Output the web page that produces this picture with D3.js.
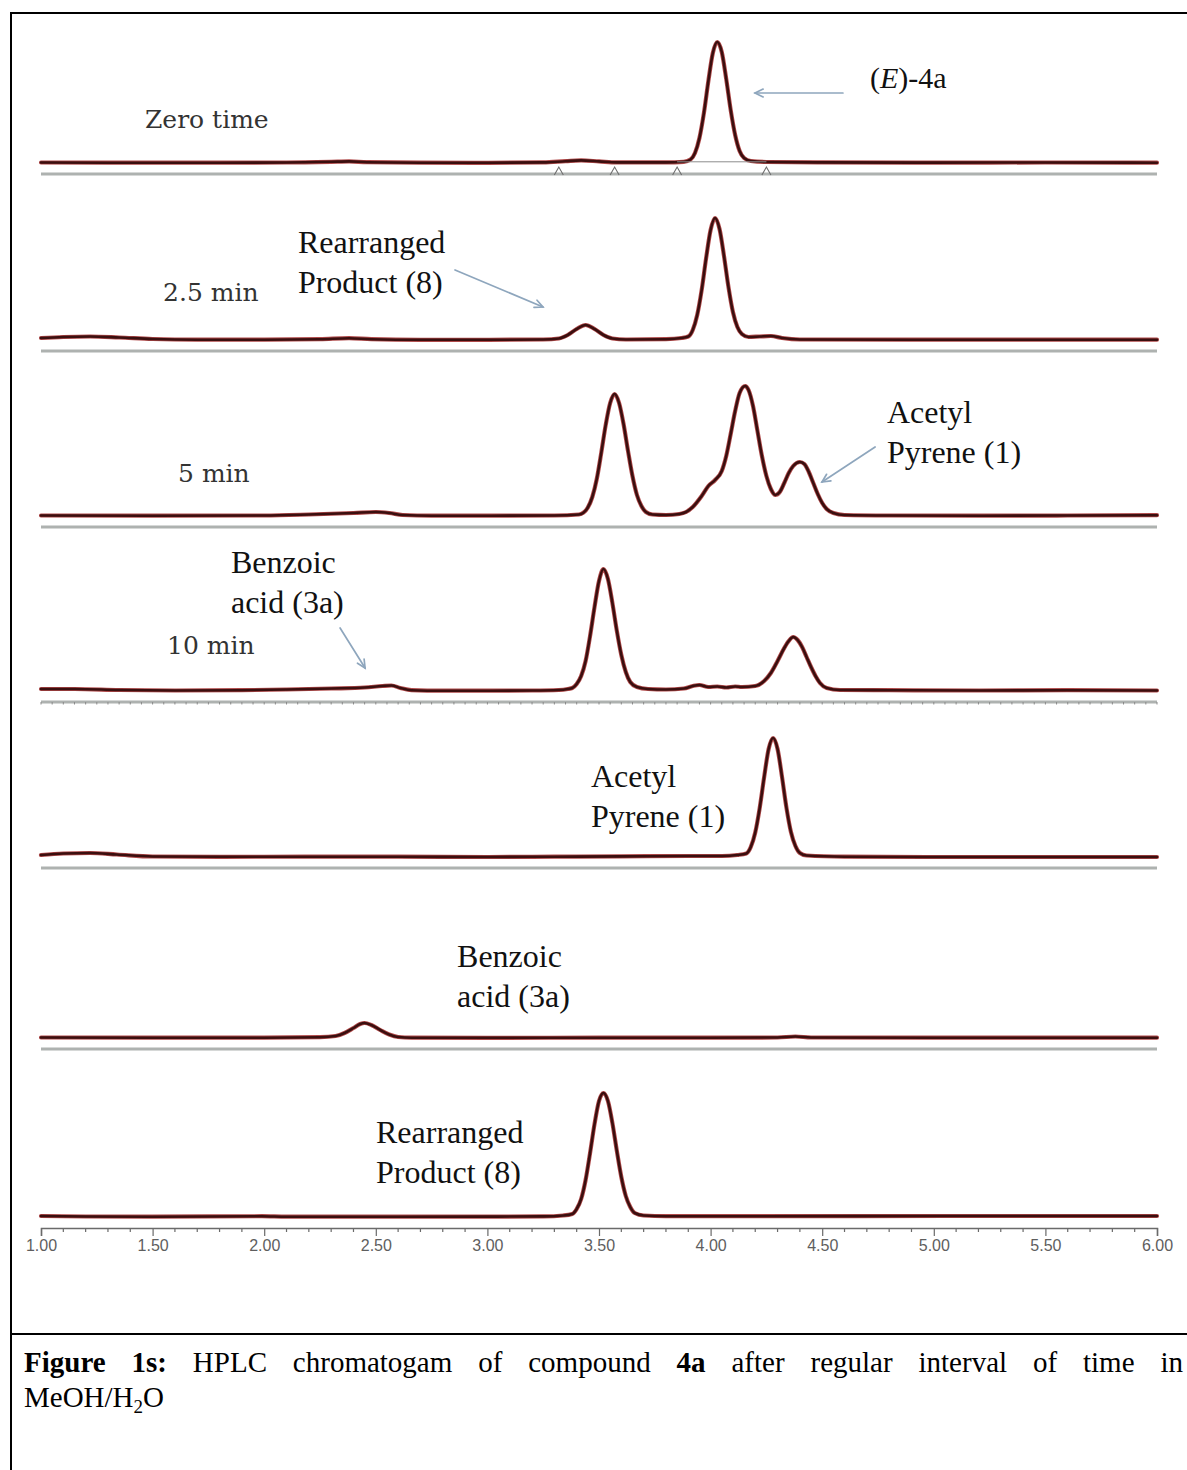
<!DOCTYPE html>
<html>
<head>
<meta charset="utf-8">
<script src="https://cdn.jsdelivr.net/npm/d3@7"></script>
<style>
  html, body { margin: 0; padding: 0; background: #fff; }
  svg { display: block; }
</style>
</head>
<body>
<div id="chart"></div>
<script>
// Retention time axis (min)
const timeTicks = [1.00, 1.50, 2.00, 2.50, 3.00, 3.50, 4.00, 4.50, 5.00, 5.50, 6.00];
const tickLabels = ["1.00", "1.50", "2.00", "2.50", "3.00", "3.50", "4.00", "4.50", "5.00", "5.50", "6.00"];

// Sampling times of compound 4a in MeOH/H2O
const runLabels = ["Zero time", "2.5 min", "5 min", "10 min"];

// Detector signal [time (min), response] for each chromatogram
const zeroTime = [
  [1.00, 0.5], [1.30, 0.3], [1.80, 0.3], [2.10, 0.5], [2.30, 1.2], [2.38, 1.6], [2.46, 0.8],
  [2.70, 0.3], [3.00, 0.2], [3.25, 0.6], [3.35, 1.8], [3.42, 2.6], [3.50, 1.6], [3.58, 0.6],
  [3.80, 0.6], [3.88, 1.2], [3.91, 3.5], [3.93, 10], [3.95, 25], [3.97, 50], [3.99, 82],
  [4.01, 110], [4.03, 121], [4.05, 111], [4.07, 84], [4.09, 53], [4.11, 28], [4.13, 12],
  [4.15, 5], [4.18, 2], [4.25, 1], [4.50, 0.6], [5.00, 0.4], [5.50, 0.5], [6.00, 0.3]
];
const min2_5 = [
  [1.00, 2], [1.10, 3], [1.22, 3.5], [1.35, 2.5], [1.50, 1], [1.70, 0.3], [2.00, 0.3],
  [2.25, 0.8], [2.38, 1.8], [2.48, 0.8], [2.70, 0.2], [3.00, 0.2], [3.25, 0.5], [3.32, 1.5],
  [3.36, 5], [3.40, 11], [3.44, 15], [3.48, 11], [3.52, 5], [3.56, 1.5], [3.62, 0.5],
  [3.80, 0.8], [3.87, 2], [3.90, 3.5], [3.92, 10], [3.94, 25], [3.96, 50], [3.98, 82],
  [4.00, 110], [4.02, 122], [4.04, 111], [4.06, 84], [4.08, 53], [4.10, 28], [4.12, 13],
  [4.14, 6], [4.17, 3], [4.22, 3.5], [4.27, 4], [4.32, 2], [4.40, 0.5], [5.00, 0.3], [6.00, 0.3]
];
const min5 = [
  [1.00, 0.5], [1.50, 0.3], [2.00, 0.5], [2.20, 1.5], [2.40, 3], [2.50, 4], [2.56, 3],
  [2.62, 1], [2.75, 0.3], [3.00, 0.3], [3.30, 0.5], [3.41, 1.5], [3.43, 3.3], [3.45, 8.5],
  [3.47, 19], [3.49, 37], [3.51, 63], [3.53, 91], [3.55, 113], [3.57, 122], [3.59, 113],
  [3.61, 92], [3.63, 65], [3.65, 40], [3.67, 21], [3.69, 10], [3.71, 4], [3.74, 1.5],
  [3.80, 1], [3.86, 2], [3.89, 4], [3.92, 9], [3.96, 20], [3.99, 30], [4.02, 36], [4.05, 45],
  [4.07, 60], [4.09, 82], [4.11, 105], [4.13, 123], [4.155, 130], [4.17, 126], [4.19, 110],
  [4.21, 85], [4.23, 60], [4.25, 40], [4.27, 27], [4.29, 21], [4.31, 24], [4.33, 33],
  [4.35, 43], [4.37, 50], [4.40, 54], [4.42, 52], [4.44, 44], [4.46, 33], [4.48, 22],
  [4.50, 13], [4.52, 7], [4.55, 3], [4.60, 1], [4.80, 0.5], [5.20, 0.3], [5.60, 0.5], [6.00, 0.8]
];
const min10 = [
  [1.00, 2], [1.15, 2], [1.35, 1], [1.60, 0.5], [1.90, 0.8], [2.10, 1.5], [2.30, 2.5],
  [2.45, 3.5], [2.53, 5], [2.57, 5.5], [2.61, 3], [2.66, 0.8], [2.80, 0.3], [3.00, 0.3],
  [3.20, 0.5], [3.32, 1], [3.36, 2], [3.38, 3], [3.40, 7], [3.42, 15], [3.44, 30], [3.46, 55],
  [3.48, 84], [3.50, 110], [3.52, 122], [3.54, 112], [3.56, 88], [3.58, 60], [3.60, 36],
  [3.62, 19], [3.64, 9], [3.67, 4], [3.72, 2], [3.80, 1.5], [3.88, 2.5], [3.92, 5], [3.95, 6],
  [3.99, 4], [4.03, 4.5], [4.07, 3.5], [4.11, 4.5], [4.14, 4], [4.20, 5], [4.24, 10],
  [4.27, 18], [4.30, 30], [4.33, 43], [4.35, 50], [4.37, 54], [4.39, 51], [4.41, 44],
  [4.43, 34], [4.45, 24], [4.47, 15], [4.49, 8], [4.52, 3], [4.58, 1], [4.80, 0.8],
  [5.20, 0.5], [5.60, 0.8], [6.00, 0.5]
];
const acetylPyrene = [
  [1.00, 2], [1.10, 3.5], [1.22, 4], [1.34, 2.5], [1.50, 0.5], [1.80, 0.2], [2.20, 0.3],
  [2.60, 0.3], [3.00, 0], [3.30, 0.3], [3.60, 0.6], [3.90, 1], [4.05, 1], [4.12, 2],
  [4.16, 3.5], [4.18, 10], [4.20, 24.5], [4.22, 49], [4.24, 80], [4.26, 108], [4.28, 119],
  [4.30, 108], [4.32, 80], [4.34, 49], [4.36, 25], [4.38, 11], [4.40, 4], [4.43, 1.5],
  [4.60, 0.3], [5.00, 0], [6.00, 0]
];
const benzoicAcid = [
  [1.00, 0.5], [1.50, 0.3], [2.00, 0.3], [2.25, 0.8], [2.32, 2], [2.36, 5], [2.40, 10],
  [2.43, 14], [2.45, 15], [2.48, 13], [2.52, 8], [2.56, 3.5], [2.60, 1], [2.66, 0.3],
  [3.00, 0.2], [3.50, 0.3], [4.00, 0.3], [4.30, 0.5], [4.38, 1.5], [4.45, 0.5], [5.00, 0.3],
  [6.00, 0.3]
];
const rearranged = [
  [1.00, 1], [1.20, 0.5], [1.50, 0.3], [1.99, 0.8], [2.10, 0.3], [2.60, 0.3], [3.00, 0.4],
  [3.25, 0.6], [3.34, 1.5], [3.38, 3], [3.40, 8], [3.42, 18], [3.44, 37], [3.46, 64],
  [3.48, 93], [3.50, 116], [3.52, 124], [3.54, 116], [3.56, 94], [3.58, 66], [3.60, 40],
  [3.62, 21], [3.64, 10], [3.66, 4], [3.70, 1.5], [3.80, 0.8], [4.20, 0.8], [5.10, 1], [6.00, 1]
];

// Peak integration marks on the zero-time run (min)
const integrationMarks = [3.32, 3.57, 3.85, 4.25];

// ---------------------------------------------------------------------------
const W = 1187, H = 1470;
const svg = d3.select("#chart").append("svg").attr("width", W).attr("height", H);

const x = d3.scaleLinear().domain([1, 6]).range([41, 1157]);

// Stacked chromatograms: baseline position of each trace
const panels = [
  { data: zeroTime, base: 163, rule: "plain" },
  { data: min2_5, base: 340, rule: "plain" },
  { data: min5, base: 516, rule: "plain" },
  { data: min10, base: 691, rule: "ticked" },
  { data: acetylPyrene, base: 857, rule: "plain" },
  { data: benzoicAcid, base: 1038, rule: "plain" },
  { data: rearranged, base: 1217, rule: "axis" }
];
panels.forEach(p => {
  p.y = d3.scaleLinear().domain([0, 130]).range([p.base, p.base - 130]);
});

const serif = "'Liberation Serif', 'Times New Roman', serif";
const runFont = "'DejaVu Serif', serif";

// Frame around figure and caption
svg.append("line").attr("x1", 11).attr("x2", 11).attr("y1", 12).attr("y2", H)
  .attr("stroke", "#000").attr("stroke-width", 2);
svg.append("line").attr("x1", 10).attr("x2", W).attr("y1", 13).attr("y2", 13)
  .attr("stroke", "#000").attr("stroke-width", 2);
svg.append("line").attr("x1", 10).attr("x2", W).attr("y1", 1334).attr("y2", 1334)
  .attr("stroke", "#000").attr("stroke-width", 2);

const line = (yS) => d3.line().x(d => x(d[0])).y(d => yS(d[1])).curve(d3.curveMonotoneX);

panels.forEach((p, i) => {
  const g = svg.append("g");
  const ruleY = p.base + 11;
  if (p.rule !== "axis") {
    g.append("line").attr("x1", x(1)).attr("x2", x(6)).attr("y1", ruleY).attr("y2", ruleY)
      .attr("stroke", "#aeb2b0").attr("stroke-width", 2.8);
    if (p.rule === "ticked") {
      g.selectAll("line.tk").data(d3.range(1, 6.001, 0.05)).join("line")
        .attr("x1", d => x(d)).attr("x2", d => x(d))
        .attr("y1", ruleY).attr("y2", ruleY + 2.5)
        .attr("stroke", "#8a8a8a").attr("stroke-width", 1);
    }
  }
  // trace: reddish halo under a dark maroon core
  g.append("path").datum(p.data).attr("d", line(p.y))
    .attr("fill", "none").attr("stroke", "#b04a4a").attr("stroke-width", 4.2)
    .attr("stroke-linejoin", "round").attr("stroke-linecap", "round");
  g.append("path").datum(p.data).attr("d", line(p.y))
    .attr("fill", "none").attr("stroke", "#3a0f0f").attr("stroke-width", 2.6)
    .attr("stroke-linejoin", "round").attr("stroke-linecap", "round");
});

// Integration baseline and peak marks on the zero-time run
{
  const p = panels[0];
  svg.append("line").attr("x1", x(3.85)).attr("x2", x(4.25))
    .attr("y1", p.y(1.2)).attr("y2", p.y(1.2))
    .attr("stroke", "#8c8c8c").attr("stroke-width", 1);
  svg.selectAll("path.mark").data(integrationMarks).join("path")
    .attr("d", d => {
      const cx = x(d), by = p.base + 12;
      return `M${cx - 4.5},${by} L${cx},${by - 8} L${cx + 4.5},${by}`;
    })
    .attr("fill", "none").attr("stroke", "#6e6e6e").attr("stroke-width", 1.1);
}

// Time axis under the last run
{
  const ay = panels[6].base + 11;
  const axis = d3.axisBottom(x)
    .tickValues(timeTicks)
    .tickFormat((d, i) => tickLabels[i])
    .tickSize(8).tickPadding(4);
  const ag = svg.append("g").attr("transform", `translate(0,${ay})`).call(axis);
  ag.select(".domain").attr("stroke", "#6a6a6a").attr("stroke-width", 1.5);
  ag.selectAll(".tick line").attr("stroke", "#6a6a6a").attr("stroke-width", 1.2);
  ag.selectAll(".tick text")
    .attr("font-family", "'Liberation Sans', Arial, sans-serif")
    .attr("font-size", 16).attr("fill", "#5e5e5e");
  const minor = d3.range(1, 6.001, 0.1).filter(t => Math.abs(t * 2 - Math.round(t * 2)) > 1e-6);
  svg.append("g").selectAll("line").data(minor).join("line")
    .attr("x1", d => x(d)).attr("x2", d => x(d))
    .attr("y1", ay).attr("y2", ay + 4)
    .attr("stroke", "#6a6a6a").attr("stroke-width", 1.2);
}

// Run-time labels
const runPos = [[1.466, 35], [1.547, 39], [1.614, 34], [1.565, 37]];
runLabels.forEach((txt, i) => {
  svg.append("text")
    .attr("x", x(runPos[i][0])).attr("y", panels[i].y(runPos[i][1]))
    .attr("font-family", runFont).attr("font-size", 25).attr("fill", "#333")
    .text(txt);
});

// Compound annotations (panel index, time, response, lines)
const notes = [
  { p: 1, t: 2.151, v: 87, lines: ["Rearranged", "Product (8)"] },
  { p: 2, t: 4.790, v: 93, lines: ["Acetyl", "Pyrene (1)"] },
  { p: 3, t: 1.851, v: 118, lines: ["Benzoic", "acid (3a)"] },
  { p: 4, t: 3.464, v: 70, lines: ["Acetyl", "Pyrene (1)"] },
  { p: 5, t: 2.864, v: 71, lines: ["Benzoic", "acid (3a)"] },
  { p: 6, t: 2.501, v: 74, lines: ["Rearranged", "Product (8)"] }
];
notes.forEach(n => {
  const P = panels[n.p];
  n.lines.forEach((s, k) => {
    svg.append("text")
      .attr("x", x(n.t)).attr("y", P.y(n.v) + k * 40)
      .attr("font-family", serif).attr("font-size", 32).attr("fill", "#111")
      .text(s);
  });
});

// (E)-4a label
{
  const t = svg.append("text").attr("x", x(4.714)).attr("y", panels[0].y(75))
    .attr("font-family", serif).attr("font-size", 30).attr("fill", "#111");
  t.append("tspan").text("(");
  t.append("tspan").attr("font-style", "italic").text("E");
  t.append("tspan").text(")-4a");
}

// Pointer arrows
const arrows = [
  { p: 0, from: [4.593, 70], to: [4.199, 70] },
  { p: 1, from: [2.855, 70], to: [3.249, 33] },
  { p: 2, from: [4.737, 69], to: [4.499, 34] },
  { p: 3, from: [2.340, 63], to: [2.452, 23] }
];
arrows.forEach(a => {
  const P = panels[a.p];
  const x1 = x(a.from[0]), y1 = P.y(a.from[1]), x2 = x(a.to[0]), y2 = P.y(a.to[1]);
  const ang = Math.atan2(y2 - y1, x2 - x1);
  const L = 9, spread = 0.45;
  const g = svg.append("g").attr("stroke", "#8ea6bd").attr("stroke-width", 1.7)
    .attr("fill", "none").attr("stroke-linecap", "round");
  g.append("line").attr("x1", x1).attr("y1", y1).attr("x2", x2).attr("y2", y2);
  g.append("path").attr("d",
    `M${x2 - L * Math.cos(ang - spread)},${y2 - L * Math.sin(ang - spread)} L${x2},${y2} ` +
    `L${x2 - L * Math.cos(ang + spread)},${y2 - L * Math.sin(ang + spread)}`);
});

// Caption, justified between the frame edges
{
  const words = [
    { s: "Figure", b: true }, { s: "1s:", b: true }, { s: "HPLC" }, { s: "chromatogam" },
    { s: "of" }, { s: "compound" }, { s: "4a", b: true }, { s: "after" }, { s: "regular" },
    { s: "interval" }, { s: "of" }, { s: "time" }, { s: "in" }
  ];
  const left = 24, right = 1183, base = 1372, fs = 29;
  const nodes = words.map(w => svg.append("text")
    .attr("y", base).attr("font-family", serif).attr("font-size", fs)
    .attr("font-weight", w.b ? "bold" : "normal").attr("fill", "#000").text(w.s));
  const widths = nodes.map(n => n.node().getComputedTextLength());
  const gap = (right - left - d3.sum(widths)) / (words.length - 1);
  let cx = left;
  nodes.forEach((n, i) => { n.attr("x", cx); cx += widths[i] + gap; });

  const t2 = svg.append("text").attr("x", left).attr("y", base + 35)
    .attr("font-family", serif).attr("font-size", fs).attr("fill", "#000");
  t2.append("tspan").text("MeOH/H");
  t2.append("tspan").attr("font-size", 19).attr("dy", 6).text("2");
  t2.append("tspan").attr("dy", -6).text("O");
}
</script>
</body>
</html>
